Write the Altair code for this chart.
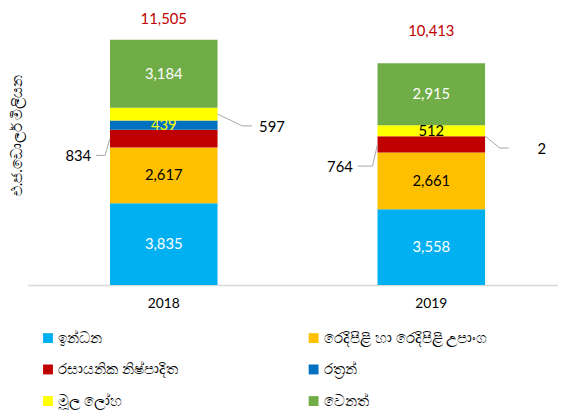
import altair as alt
import pandas as pd

years = ["2018", "2019"]
categories = ["ඉන්ධන", "රෙදිපිළි හා රෙදිපිළි උපාංග", "රසායනික නිෂ්පාදිත",
              "රත්\u200dරන්", "මූල ලෝහ", "වෙනත්"]
fuel = [3835, 3558]
textiles = [2617, 2661]
chemicals = [834, 764]
gold = [439, 2]
base_metals = [597, 512]
other = [3184, 2915]
totals = [11505, 10413]
y_title = "එ.ජ.ඩොලර් මිලියන"

series = [fuel, textiles, chemicals, gold, base_metals, other]
colors = ["#00b0f0", "#ffc000", "#c00000", "#0070c0", "#ffff00", "#70ad47"]
label_colors = ["#ffffff", "#000000", "#000000", "#ffff00", "#000000", "#ffffff"]

# callouts: (year, category index, side, diag dx, diag dy, horizontal len, text gap)
callouts = [
    ("2018", 2, -1, 5, 17, 9, 5),
    ("2018", 4, 1, 25, 12, 10, 7),
    ("2019", 2, -1, 5, 22, 15, 5),
    ("2019", 3, 1, 15, 12, 9, 29),
]
callout_keys = {(c[0], c[1]) for c in callouts}

rows = []
for yi, yr in enumerate(years):
    cum = 0
    for ci, cat in enumerate(categories):
        v = series[ci][yi]
        rows.append({
            "year": yr, "category": cat, "cidx": ci, "value": v,
            "start": cum, "end": cum + v, "mid": cum + v / 2,
            "label": f"{v:,}", "tcolor": label_colors[ci],
            "inside": (yr, ci) not in callout_keys,
        })
        cum += v
df = pd.DataFrame(rows)
tot_df = pd.DataFrame({"year": years, "total": totals,
                       "label": [f"{t:,}" for t in totals]})

FONT = "Lato"
HALF = 54.5

xenc = alt.X("year:N", sort=years,
             scale=alt.Scale(paddingInner=0.598, paddingOuter=0.29, align=0.53),
             axis=alt.Axis(title=None, labelAngle=0, ticks=False,
                           domainColor="#d9d9d9", domainWidth=1.5,
                           labelFontSize=14, labelFont=FONT, labelColor="#000000",
                           labelPadding=12, grid=False))
yscale = alt.Scale(domain=[0, 12000], nice=False, zero=True)

base = alt.Chart(df)

bars = base.mark_bar().encode(
    x=xenc,
    y=alt.Y("start:Q", scale=yscale,
            axis=alt.Axis(title=y_title, labels=False, ticks=False, domain=False,
                          grid=False, titleFontSize=15, titleFont=FONT,
                          titleFontWeight="normal", titleColor="#000000",
                          titleX=-11, titleY=107, titleAlign="center",
                          titleBaseline="middle", titleAngle=-90)),
    y2="end:Q",
    color=alt.Color("category:N", sort=categories,
                    scale=alt.Scale(domain=categories, range=colors),
                    legend=alt.Legend(title=None, orient="none", legendX=13,
                                      legendY=305, columns=2, direction="horizontal",
                                      columnPadding=131, labelLimit=400,
                                      rowPadding=16, symbolType="square",
                                      symbolSize=100, symbolStrokeWidth=0,
                                      labelFontSize=15, labelFont=FONT,
                                      labelColor="#000000", labelOffset=3,
                                      padding=0)),
)

inside = base.transform_filter("datum.inside").mark_text(
    fontSize=15, font=FONT, baseline="middle").encode(
    x="year:N",
    y=alt.Y("mid:Q", scale=yscale),
    text="label:N",
    fill=alt.Fill("tcolor:N", scale=None),
)

layers = [bars, inside]
for yr, ci, side, ddx, ddy, hl, gap in callouts:
    sub = base.transform_filter(
        f"datum.year == '{yr}' && datum.cidx == {ci}")
    x0 = side * HALF
    x1 = side * (HALF + ddx)
    x2 = side * (HALF + ddx + hl)
    x3 = side * (HALF + ddx + hl + gap)
    diag = sub.mark_rule(color="#a6a6a6", strokeWidth=1,
                         xOffset=x0, x2Offset=x1, y2Offset=ddy).encode(
        x="year:N", x2="year:N",
        y=alt.Y("mid:Q", scale=yscale), y2="mid:Q")
    horiz = sub.mark_rule(color="#a6a6a6", strokeWidth=1,
                          xOffset=x1, x2Offset=x2, yOffset=ddy,
                          y2Offset=ddy).encode(
        x="year:N", x2="year:N",
        y=alt.Y("mid:Q", scale=yscale), y2="mid:Q")
    txt = sub.mark_text(fontSize=15, font=FONT, color="#000000",
                        align="right" if side < 0 else "left",
                        baseline="middle", dx=x3, dy=ddy + 1).encode(
        x="year:N", y=alt.Y("mid:Q", scale=yscale), text="label:N")
    layers += [diag, horiz, txt]

totals_layer = alt.Chart(tot_df).transform_calculate(
    pos="(datum.total + 13436) / 2").mark_text(
    fontSize=15, font=FONT, color="#c00000", baseline="middle").encode(
    x="year:N", y=alt.Y("pos:Q", scale=yscale), text="label:N")
layers.append(totals_layer)

chart = alt.layer(*layers).properties(
    width=537, height=259,
    autosize=alt.AutoSizeParams(type="none"),
    padding={"left": 20, "top": 19, "right": 0, "bottom": 124},
).configure_view(stroke=None)

chart.save("out.html", embed_options={"renderer": "svg", "actions": False})
